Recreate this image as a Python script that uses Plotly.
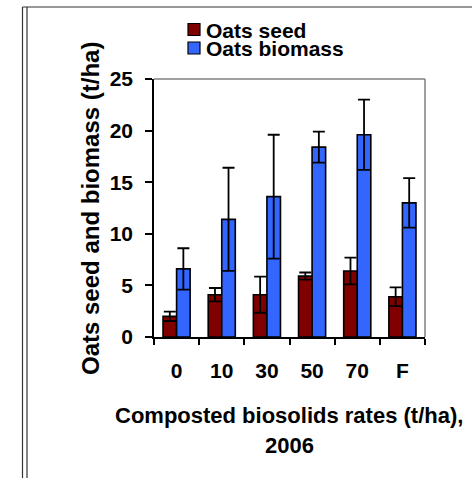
import plotly.graph_objects as go

# ---- data ----
categories = ["0", "10", "30", "50", "70", "F"]
seed = [2.0, 4.1, 4.1, 5.9, 6.4, 3.9]
seed_err = [0.45, 0.65, 1.75, 0.35, 1.3, 0.9]
biomass = [6.6, 11.4, 13.6, 18.4, 19.6, 13.0]
biomass_err = [2.0, 5.0, 6.0, 1.5, 3.4, 2.4]
series_names = ["Oats seed", "Oats biomass"]
y_title = "Oats seed and biomass (t/ha)"
x_title_lines = ["Composted biosolids rates (t/ha),", "2006"]

# ---- layout geometry (pixels) ----
FW, FH = 472, 478
L, R, T, B = 154, 425, 79, 337
PW, PH = R - L, B - T


def px(xp):
    return (xp - L) / PW


def py(yp):
    return (B - yp) / PH


SEED_COLOR = "#800000"
BIO_COLOR = "#3366FF"
FONT = "Liberation Sans, Arial, sans-serif"

fig = go.Figure()
fig.add_trace(go.Bar(
    x=categories, y=seed, name=series_names[0],
    marker=dict(color=SEED_COLOR, line=dict(color="black", width=1.6)),
    error_y=dict(type="data", array=seed_err, visible=True,
                 color="black", thickness=1.8, width=6),
))
fig.add_trace(go.Bar(
    x=categories, y=biomass, name=series_names[1],
    marker=dict(color=BIO_COLOR, line=dict(color="black", width=1.6)),
    error_y=dict(type="data", array=biomass_err, visible=True,
                 color="black", thickness=1.8, width=6),
))

shapes = []
# gray top and right plot frame
shapes.append(dict(type="line", xref="paper", yref="paper", x0=0, x1=1, y0=1, y1=1,
                   line=dict(color="#808080", width=1.5)))
shapes.append(dict(type="line", xref="paper", yref="paper", x0=1, x1=1, y0=0, y1=1,
                   line=dict(color="#808080", width=1.5)))
# outer page frame
FRAME = "#333333"
for xl in (22.5, 27):
    shapes.append(dict(type="line", xref="paper", yref="paper",
                       x0=px(xl), x1=px(xl), y0=py(7), y1=py(FH + 5),
                       line=dict(color=FRAME, width=1.2)))
shapes.append(dict(type="line", xref="paper", yref="paper",
                   x0=px(22.5), x1=px(FW + 5), y0=py(7), y1=py(7),
                   line=dict(color=FRAME, width=1.2)))
# legend squares
for (yc, col) in ((29.5, SEED_COLOR), (48, BIO_COLOR)):
    shapes.append(dict(type="rect", xref="paper", yref="paper",
                       x0=px(188), x1=px(200), y0=py(yc - 6), y1=py(yc + 6),
                       fillcolor=col, line=dict(color="black", width=1.2)))

annotations = []
for (yc, name) in ((29.5, series_names[0]), (48, series_names[1])):
    annotations.append(dict(text=name, xref="paper", yref="paper",
                            x=px(206), y=py(yc), xanchor="left", yanchor="middle",
                            height=18, valign="middle", borderpad=0, borderwidth=0,
                            showarrow=False,
                            font=dict(family=FONT, size=21, color="black", weight="bold")))
annotations.append(dict(text=y_title, xref="paper", yref="paper",
                        x=px(90), y=py(209), xanchor="center", yanchor="middle",
                        textangle=-90, showarrow=False,
                        font=dict(family=FONT, size=24, color="black", weight="bold")))
for (yc, line) in ((415, x_title_lines[0]), (445, x_title_lines[1])):
    annotations.append(dict(text=line, xref="paper", yref="paper",
                            x=px(289), y=py(yc), xanchor="center", yanchor="middle",
                            showarrow=False,
                            font=dict(family=FONT, size=22, color="black", weight="bold")))

fig.update_layout(
    width=FW, height=FH,
    margin=dict(l=L, r=FW - R, t=T, b=FH - B, pad=0),
    paper_bgcolor="white", plot_bgcolor="white",
    barmode="group", bargap=0.4, bargroupgap=0,
    showlegend=False,
    font=dict(family=FONT, color="black"),
    shapes=shapes, annotations=annotations,
    xaxis=dict(
        type="category", showgrid=False, zeroline=False,
        showline=True, linecolor="black", linewidth=1.5,
        ticks="outside", tickson="boundaries", ticklen=6, tickwidth=1.5, tickcolor="black",
        tickfont=dict(family=FONT, size=21, color="black", weight="bold"),
        ticklabelstandoff=14,
    ),
    yaxis=dict(
        range=[0, 25], dtick=5, showgrid=False, zeroline=False,
        showline=True, linecolor="black", linewidth=1.5,
        ticks="outside", ticklen=7, tickwidth=1.5, tickcolor="black",
        tickfont=dict(family=FONT, size=21, color="black", weight="bold"),
        ticklabelstandoff=8,
    ),
)

fig.write_html("out.html")
